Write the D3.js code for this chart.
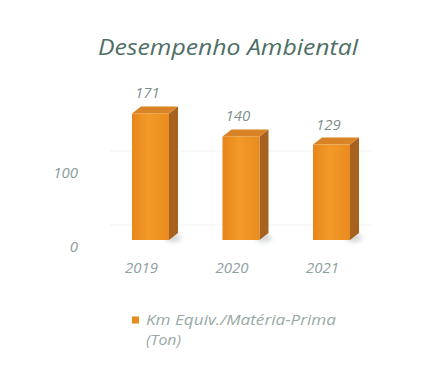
<!DOCTYPE html>
<html>
<head>
<meta charset="utf-8">
<script src="https://cdn.jsdelivr.net/npm/d3@7"></script>
<style>
  html, body { margin: 0; padding: 0; background: #ffffff; }
  svg { display: block; }
  text { font-family: "Open Sans", "DejaVu Sans", sans-serif; font-style: italic; }
</style>
</head>
<body>
<div id="chart"></div>
<script>
// Data
const years = ["2019", "2020", "2021"];
const values = [171, 140, 129];
const yTicks = [0, 100];
const chartTitle = "Desempenho Ambiental";
const seriesName = ["Km Equiv./Matéria-Prima", "(Ton)"];

const W = 432, H = 367;
const depthX = 9, depthY = 7;      // 3D extrusion of each bar
const wallY = 15;                  // back wall shift for gridlines

const svg = d3.select("#chart").append("svg")
  .attr("width", W).attr("height", H);

const defs = svg.append("defs");
const grad = defs.append("linearGradient").attr("id", "front")
  .attr("x1", "0%").attr("x2", "100%").attr("y1", "0%").attr("y2", "0%");
grad.append("stop").attr("offset", "0%").attr("stop-color", "#e6861c");
grad.append("stop").attr("offset", "45%").attr("stop-color", "#f39a28");
grad.append("stop").attr("offset", "100%").attr("stop-color", "#ea8b1f");

const shadow = defs.append("filter").attr("id", "shadowBlur")
  .attr("x", "-50%").attr("y", "-50%").attr("width", "200%").attr("height", "200%");
shadow.append("feGaussianBlur").attr("stdDeviation", 2.5);

const x = d3.scaleBand().domain(years).range([78.5, 403.5])
  .paddingInner(0.591).paddingOuter(0.591);
const y = d3.scaleLinear().domain([0, 200]).range([240, 92]);

// Title
svg.append("text")
  .attr("x", 98).attr("y", 55)
  .attr("textLength", 260).attr("lengthAdjust", "spacingAndGlyphs")
  .attr("font-size", 21).attr("fill", "#4f6e66")
  .text(chartTitle);

// Faint gridlines on the back wall
svg.append("g").selectAll("line").data(yTicks).join("line")
  .attr("x1", 110).attr("x2", 372)
  .attr("y1", d => y(d) - wallY).attr("y2", d => y(d) - wallY)
  .attr("stroke", "#f0f2f2").attr("stroke-width", 1);

// Value axis, labels only
const yAxis = svg.append("g")
  .attr("transform", "translate(80,7)")
  .call(d3.axisLeft(y).tickValues(yTicks).tickSize(0).tickPadding(2));
yAxis.select(".domain").remove();
yAxis.selectAll("text")
  .attr("font-family", "Open Sans, DejaVu Sans, sans-serif")
  .attr("font-style", "italic")
  .attr("font-size", 15).attr("fill", "#8c9c9a");

// Bars
const bars = svg.append("g").selectAll("g").data(years.map((yr, i) => ({ yr, v: values[i] })))
  .join("g");

// soft floor shadow
bars.append("ellipse")
  .attr("cx", d => x(d.yr) + x.bandwidth() + 4)
  .attr("cy", y(0) - 2)
  .attr("rx", 8).attr("ry", 4)
  .attr("fill", "#9aa6a4").attr("opacity", 0.45)
  .attr("filter", "url(#shadowBlur)");

// side face
bars.append("path")
  .attr("d", d => {
    const x1 = x(d.yr) + x.bandwidth(), yt = y(d.v), yb = y(0);
    return `M${x1},${yt} L${x1 + depthX},${yt - depthY} L${x1 + depthX},${yb - depthY} L${x1},${yb} Z`;
  })
  .attr("fill", "#a8621f");

// top face
bars.append("path")
  .attr("d", d => {
    const x0 = x(d.yr), x1 = x0 + x.bandwidth(), yt = y(d.v);
    return `M${x0},${yt} L${x0 + depthX},${yt - depthY} L${x1 + depthX},${yt - depthY} L${x1},${yt} Z`;
  })
  .attr("fill", "#d88326");

// front face
bars.append("rect")
  .attr("x", d => x(d.yr))
  .attr("y", d => y(d.v))
  .attr("width", x.bandwidth())
  .attr("height", d => y(0) - y(d.v))
  .attr("fill", "url(#front)");

// value labels
bars.append("text")
  .attr("x", d => x(d.yr) + x.bandwidth() / 2 - 3)
  .attr("y", d => y(d.v) - 15)
  .attr("text-anchor", "middle")
  .attr("font-size", 15).attr("fill", "#7f908e")
  .text(d => d.v);

// Category axis, labels only
const xAxis = svg.append("g")
  .attr("transform", "translate(-9,262)")
  .call(d3.axisBottom(x).tickSize(0).tickPadding(0));
xAxis.select(".domain").remove();
xAxis.selectAll("text")
  .attr("font-family", "Open Sans, DejaVu Sans, sans-serif")
  .attr("font-style", "italic")
  .attr("font-size", 15).attr("fill", "#8fa19f");

// Legend
const legend = svg.append("g");
legend.append("rect")
  .attr("x", 132).attr("y", 316.5).attr("width", 7).attr("height", 7)
  .attr("fill", "#e48a1d");
const legendWidths = [190, 35];
legend.selectAll("text.leg").data(seriesName).join("text")
  .attr("class", "leg")
  .attr("x", 146).attr("y", (d, i) => 325 + i * 20)
  .attr("font-size", 14).attr("fill", "#9aa9a7")
  .attr("textLength", (d, i) => legendWidths[i])
  .attr("lengthAdjust", "spacingAndGlyphs")
  .text(d => d);
</script>
</body>
</html>
